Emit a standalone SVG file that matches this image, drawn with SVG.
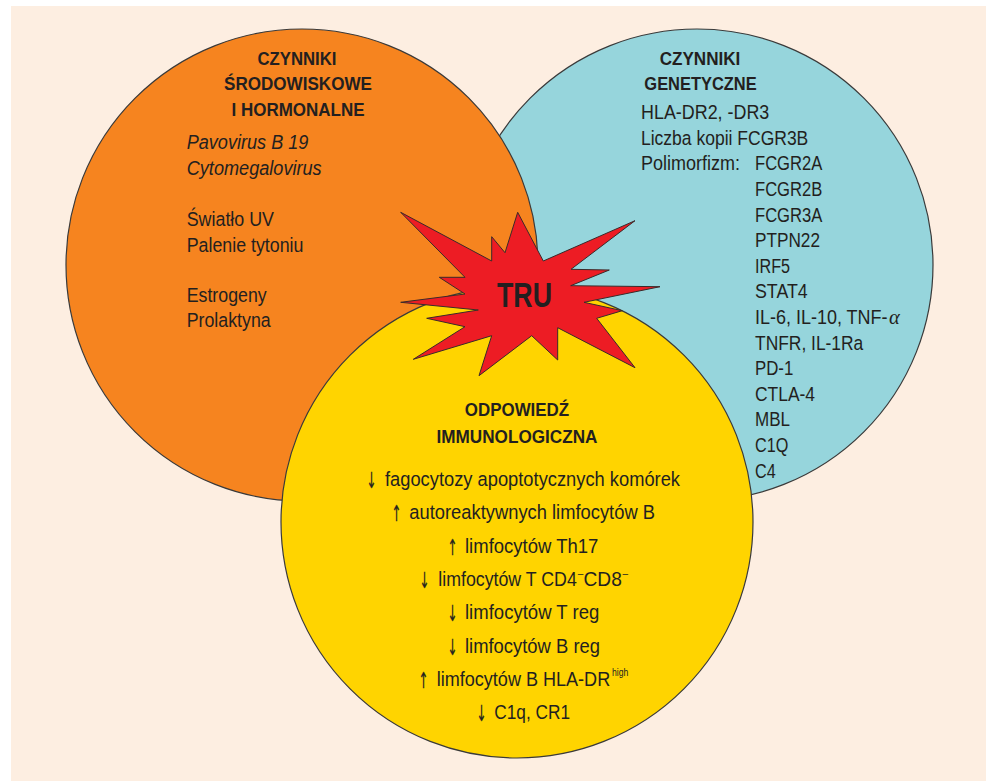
<svg xmlns="http://www.w3.org/2000/svg" width="986" height="781" viewBox="0 0 986 781">
<style>
.c{stroke:#3a3a3a;stroke-width:1.2}
.t{font-family:"Liberation Sans",Arial,sans-serif;font-size:20.5px;fill:#231F20}
.h{font-family:"Liberation Sans",Arial,sans-serif;font-size:18.5px;font-weight:bold;fill:#231F20;text-anchor:middle}
.i{font-style:italic}
.s{font-family:"Liberation Sans",Arial,sans-serif;font-size:11px;fill:#231F20}
.m{font-family:"Liberation Sans",Arial,sans-serif;font-size:10px;fill:#231F20}
.a{font-family:"DejaVu Sans",sans-serif;font-size:22px;fill:#231F20;stroke:#231F20;stroke-width:0.3;text-anchor:middle}
</style>
<rect x="0" y="0" width="986" height="781" fill="#ffffff"/>
<rect x="11" y="6" width="975" height="775" fill="#FDEEE1"/>
<g id="genetic">
<circle class="c" cx="697" cy="265" r="236" fill="#96D5DC"/>
</g>
<g id="environmental">
<circle class="c" cx="302" cy="265" r="236" fill="#F6841F"/>
</g>
<g id="immune">
<circle class="c" cx="517" cy="522" r="236" fill="#FFD400"/>
</g>
<g id="tru">
<polygon fill="#ED1C24" stroke="#3a2a2a" stroke-width="1" stroke-linejoin="miter" points="400.7,212.3 491.7,261 491.7,236.7 505,252.7 517.7,212.3 543.3,261 635,220.7 571,269.3 609.3,270 570.7,285.7 660,286.7 584,302.3 622.3,310.7 596.7,318.3 635,367.7 557.7,327.7 557.7,360 531.7,335.7 479,375.7 491.7,335.7 413.3,359.3 465,326.7 426.7,318.3 478.3,310 400.7,302.3 465,294 439.3,277.3 465,277.3"/>
<text x="524.5" y="307.3" font-family="Liberation Sans,Arial,sans-serif" font-size="35" font-weight="bold" fill="#231F20" text-anchor="middle" textLength="55" lengthAdjust="spacingAndGlyphs">TRU</text>
</g>
<g id="environmental-text">
<text class="h" x="297" y="65" textLength="79" lengthAdjust="spacingAndGlyphs">CZYNNIKI</text>
<text class="h" x="298" y="90" textLength="148" lengthAdjust="spacingAndGlyphs">ŚRODOWISKOWE</text>
<text class="h" x="298" y="115.7" textLength="133" lengthAdjust="spacingAndGlyphs">I HORMONALNE</text>
<text class="t i" x="186.7" y="149.3" textLength="121.7" lengthAdjust="spacingAndGlyphs">Pavovirus B 19</text>
<text class="t i" x="186.7" y="174.5" textLength="135" lengthAdjust="spacingAndGlyphs">Cytomegalovirus</text>
<text class="t" x="186.7" y="225.7" textLength="87.3" lengthAdjust="spacingAndGlyphs">Światło UV</text>
<text class="t" x="186.7" y="251.5" textLength="116.7" lengthAdjust="spacingAndGlyphs">Palenie tytoniu</text>
<text class="t" x="186.7" y="302.3" textLength="80" lengthAdjust="spacingAndGlyphs">Estrogeny</text>
<text class="t" x="186.7" y="327.3" textLength="84" lengthAdjust="spacingAndGlyphs">Prolaktyna</text>
</g>
<g id="genetic-text">
<text class="h" x="700" y="65" textLength="80.7" lengthAdjust="spacingAndGlyphs">CZYNNIKI</text>
<text class="h" x="700.5" y="90" textLength="112.3" lengthAdjust="spacingAndGlyphs">GENETYCZNE</text>
<text class="t" x="641" y="119" textLength="128.3" lengthAdjust="spacingAndGlyphs">HLA-DR2, -DR3</text>
<text class="t" x="641" y="145" textLength="167.3" lengthAdjust="spacingAndGlyphs">Liczba kopii FCGR3B</text>
<text class="t" x="641" y="170.4" textLength="99" lengthAdjust="spacingAndGlyphs">Polimorfizm:</text>
<text class="t" x="755" y="170.4" textLength="67.3" lengthAdjust="spacingAndGlyphs">FCGR2A</text>
<text class="t" x="755" y="196" textLength="67.3" lengthAdjust="spacingAndGlyphs">FCGR2B</text>
<text class="t" x="755" y="221.6" textLength="67.3" lengthAdjust="spacingAndGlyphs">FCGR3A</text>
<text class="t" x="755" y="247.2" textLength="65" lengthAdjust="spacingAndGlyphs">PTPN22</text>
<text class="t" x="755" y="272.8" textLength="35" lengthAdjust="spacingAndGlyphs">IRF5</text>
<text class="t" x="755" y="298.4" textLength="52.7" lengthAdjust="spacingAndGlyphs">STAT4</text>
<text class="t" x="755" y="324" textLength="132.5" lengthAdjust="spacingAndGlyphs">IL-6, IL-10, TNF-</text>
<text x="889" y="324" font-family="Liberation Serif,serif" font-style="italic" font-size="20.5" fill="#231F20">α</text>
<text class="t" x="755" y="349.6" textLength="108.3" lengthAdjust="spacingAndGlyphs">TNFR, IL-1Ra</text>
<text class="t" x="755" y="375.2" textLength="38.3" lengthAdjust="spacingAndGlyphs">PD-1</text>
<text class="t" x="755" y="400.8" textLength="60" lengthAdjust="spacingAndGlyphs">CTLA-4</text>
<text class="t" x="755" y="426.4" textLength="35" lengthAdjust="spacingAndGlyphs">MBL</text>
<text class="t" x="755" y="452" textLength="33.3" lengthAdjust="spacingAndGlyphs">C1Q</text>
<text class="t" x="755" y="477.6" textLength="20.7" lengthAdjust="spacingAndGlyphs">C4</text>
</g>
<g id="immune-text">
<text class="h" x="517" y="416" textLength="104.3" lengthAdjust="spacingAndGlyphs">ODPOWIEDŹ</text>
<text class="h" x="517" y="442.7" textLength="161" lengthAdjust="spacingAndGlyphs">IMMUNOLOGICZNA</text>
<text class="t" x="385" y="486" textLength="295" lengthAdjust="spacingAndGlyphs">fagocytozy apoptotycznych komórek</text>
<text class="t" x="409.3" y="519.3" textLength="245.7" lengthAdjust="spacingAndGlyphs">autoreaktywnych limfocytów B</text>
<text class="t" x="465" y="552.7" textLength="133.3" lengthAdjust="spacingAndGlyphs">limfocytów Th17</text>
<text class="t" x="438.3" y="586" textLength="138.5" lengthAdjust="spacingAndGlyphs">limfocytów T CD4</text>
<text class="m" x="577.8" y="576.5">–</text>
<text class="t" x="583.5" y="586" textLength="38.3" lengthAdjust="spacingAndGlyphs">CD8</text>
<text class="m" x="622.5" y="576.5">–</text>
<text class="t" x="465" y="619.3" textLength="134.3" lengthAdjust="spacingAndGlyphs">limfocytów T reg</text>
<text class="t" x="465" y="652.7" textLength="135" lengthAdjust="spacingAndGlyphs">limfocytów B reg</text>
<text class="t" x="436.7" y="686" textLength="173.5" lengthAdjust="spacingAndGlyphs">limfocytów B HLA-DR</text>
<text class="s" x="612" y="676" textLength="16.3" lengthAdjust="spacingAndGlyphs">high</text>
<text class="t" x="494.3" y="719.3" textLength="75.7" lengthAdjust="spacingAndGlyphs">C1q, CR1</text>
<g id="arrows" opacity="0.99">
<text class="a" x="371.5" y="488" textLength="10" lengthAdjust="spacingAndGlyphs">↓</text>
<text class="a" x="396.5" y="521.3" textLength="10" lengthAdjust="spacingAndGlyphs">↑</text>
<text class="a" x="452.5" y="554.7" textLength="10" lengthAdjust="spacingAndGlyphs">↑</text>
<text class="a" x="424.5" y="588" textLength="10" lengthAdjust="spacingAndGlyphs">↓</text>
<text class="a" x="452.5" y="621.3" textLength="10" lengthAdjust="spacingAndGlyphs">↓</text>
<text class="a" x="452.5" y="654.7" textLength="10" lengthAdjust="spacingAndGlyphs">↓</text>
<text class="a" x="423.5" y="688" textLength="10" lengthAdjust="spacingAndGlyphs">↑</text>
<text class="a" x="481.5" y="721.3" textLength="10" lengthAdjust="spacingAndGlyphs">↓</text>
</g>
</g>
</svg>
